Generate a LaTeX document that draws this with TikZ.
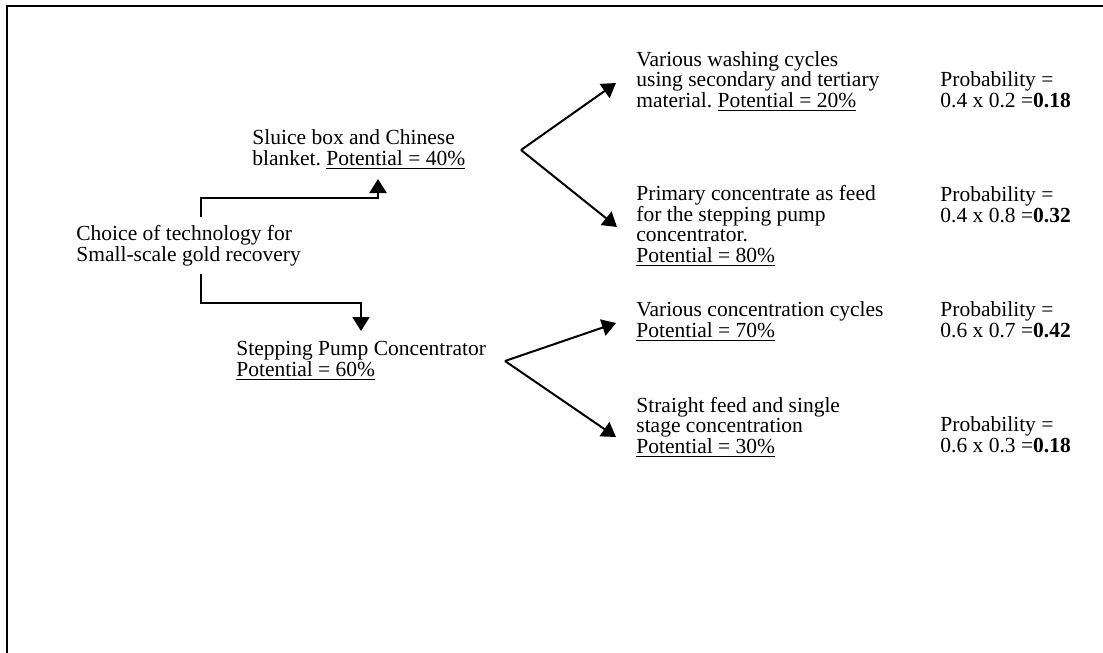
\documentclass[tikz,border=0pt]{standalone}
\usepackage{fontspec}
\setmainfont{Liberation Serif}
\usetikzlibrary{arrows.meta}
\begin{document}
\begin{tikzpicture}[x=0.5pt,y=-0.5pt,
  txt/.style={anchor=base west, align=left, inner sep=0pt,
    font=\fontsize{10.75}{10.25}\selectfont\frenchspacing},
  arr/.style={line width=1pt, -{Triangle[width=8.5pt,length=7pt]}},
  framestyle/.style={line width=1pt}]
\useasboundingbox (0,0) rectangle (1103,653);
% open frame: top and left edges
\draw[framestyle] (7,653) -- (7,6) -- (1103,6);

% text blocks are placed by the baseline of their last line
% first-level choice
\node[txt] (choice) at (76,261) {Choice of technology for\\Small-scale gold recovery};
\node[txt] (sluice) at (252,165) {Sluice box and Chinese\\blanket. \underline{Potential = 40\%}};
\node[txt] (spc) at (236,376) {Stepping Pump Concentrator\\\underline{Potential = 60\%}};

% second-level options
\node[txt] (wash) at (636,107) {Various washing cycles\\using secondary and tertiary\\material. \underline{Potential = 20\%}};
\node[txt] (prim) at (636,262) {Primary concentrate as feed\\for the stepping pump\\concentrator.\\\underline{Potential = 80\%}};
\node[txt] (vcc) at (636,337) {Various concentration cycles\\\underline{Potential = 70\%}};
\node[txt] (straight) at (636,453) {Straight feed and single\\stage concentration\\\underline{Potential = 30\%}};

% probabilities
\node[txt] (p1) at (940,107) {Probability =\\0.4 x 0.2 =\textbf{0.18}};
\node[txt] (p2) at (940,222) {Probability =\\0.4 x 0.8 =\textbf{0.32}};
\node[txt] (p3) at (940,337) {Probability =\\0.6 x 0.7 =\textbf{0.42}};
\node[txt] (p4) at (940,452) {Probability =\\0.6 x 0.3 =\textbf{0.18}};

% connector end points
\coordinate (choiceUp) at (201,217);
\coordinate (choiceDown) at (201,274);
\coordinate (sluiceIn) at (378,179);
\coordinate (spcIn) at (361,331);
\coordinate (forkA) at (521,150);
\coordinate (forkB) at (505,361);
\coordinate (washIn) at (616,83);
\coordinate (primIn) at (617,227);
\coordinate (vccIn) at (616,323);
\coordinate (straightIn) at (616,437);

% elbow connectors from the first choice
\draw[arr] (choiceUp) -- ++(0,-19) -| (sluiceIn);
\draw[arr] (choiceDown) -- ++(0,29) -| (spcIn);

% forks
\draw[arr] (forkA) -- (washIn);
\draw[arr] (forkA) -- (primIn);
\draw[arr] (forkB) -- (vccIn);
\draw[arr] (forkB) -- (straightIn);
\end{tikzpicture}
\end{document}
